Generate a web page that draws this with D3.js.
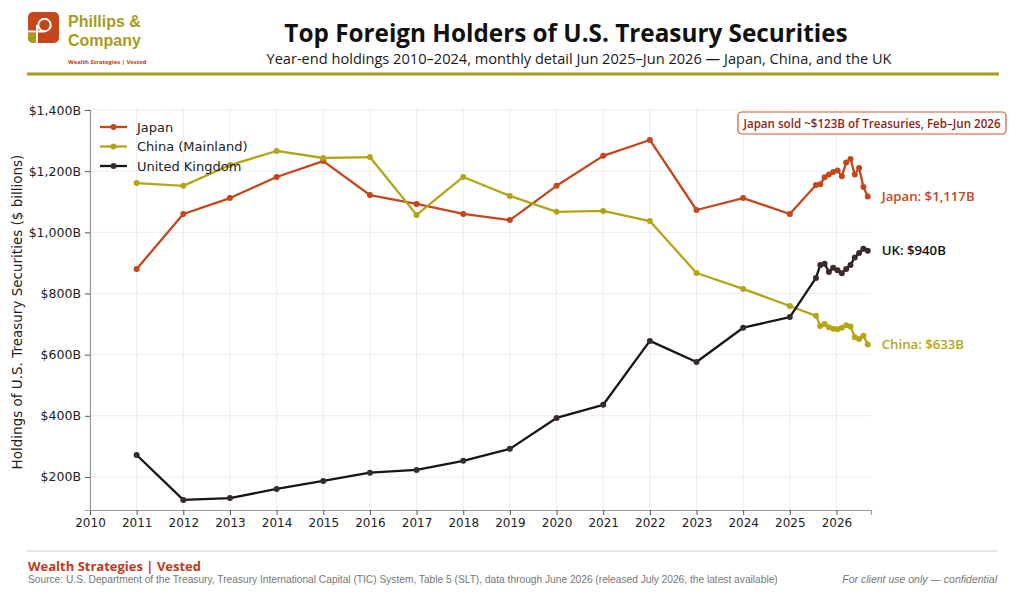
<!DOCTYPE html>
<html>
<head>
<meta charset="utf-8">
<script src="https://cdn.jsdelivr.net/npm/d3@7/dist/d3.min.js"></script>
<style>
  html, body { margin: 0; padding: 0; background: #fff; }
  svg { display: block; }
</style>
</head>
<body>
<svg id="chart" width="1024" height="596"></svg>
<script>
// ---------------- DATA ----------------
// Year-end holdings (plotted at the year's end, i.e. start of next year)
const yearEnds = [2010, 2011, 2012, 2013, 2014, 2015, 2016, 2017, 2018, 2019, 2020, 2021, 2022, 2023, 2024];
const japanYE  = [880, 1060, 1112, 1181, 1233, 1122, 1093, 1060, 1040, 1152, 1250, 1302, 1073, 1112, 1060];
const chinaYE  = [1161, 1152, 1220, 1266, 1243, 1246, 1057, 1181, 1119, 1067, 1070, 1037, 867, 815, 759];
const ukYE     = [272, 125, 131, 161, 187, 214, 223, 253, 292, 393, 436, 645, 576, 688, 723];

// Monthly detail Jun 2025 - Jun 2026
const months  = ["Jun 2025","Jul 2025","Aug 2025","Sep 2025","Oct 2025","Nov 2025","Dec 2025",
                 "Jan 2026","Feb 2026","Mar 2026","Apr 2026","May 2026","Jun 2026"];
const japanM  = [1155, 1157, 1180, 1189, 1197, 1202, 1183, 1228, 1240, 1189, 1210, 1148, 1117];
const chinaM  = [727, 694, 700, 690, 685, 683, 688, 696, 692, 657, 651, 662, 633];
const ukM     = [851, 893, 897, 870, 884, 876, 866, 880, 893, 918, 932, 946, 940];

const seriesNames = ["Japan", "China (Mainland)", "United Kingdom"];
const endLabels   = ["Japan: $1,117B", "China: $633B", "UK: $940B"];
const xTickYears  = d3.range(2010, 2027);
const yTickValues = [200, 400, 600, 800, 1000, 1200, 1400];

const brandLines   = ["Phillips &", "Company"];
const titleText    = "Top Foreign Holders of U.S. Treasury Securities";
const subtitleText = "Year-end holdings 2010\u20132024, monthly detail Jun 2025\u2013Jun 2026 \u2014 Japan, China, and the UK";
const noteText     = "Japan sold ~$123B of Treasuries, Feb\u2013Jun 2026";
const yAxisTitle   = "Holdings of U.S. Treasury Securities ($ billions)";
const footerBrand  = "Wealth Strategies | Vested";
const sourceText   = "Source: U.S. Department of the Treasury, Treasury International Capital (TIC) System, Table 5 (SLT), data through June 2026 (released July 2026, the latest available)";
const confText     = "For client use only \u2014 confidential";

// ---------------- STYLE ----------------
const COLORS = { japan: "#c4461c", china: "#b3a514", uk: "#161616" };
const DOTS   = { japan: "#c4461c", china: "#b3a514", uk: "#3a2b2b" };
const OLIVE  = "#a89c1c";
const RED    = "#c0391b";

const svg = d3.select("#chart");
const M = { left: 90, right: 871, top: 110, bottom: 510 };

// monthly points are placed in the stretched detail region at the right
const monthPos = d3.scaleLinear().domain([0, months.length - 1]).range([2025.56, 2026.67]);

const x = d3.scaleLinear().domain([2010, 2026.74]).range([M.left, M.right]);
const y = d3.scaleLinear().domain([92, 1400]).range([M.bottom, M.top]);

function build(ye, mo) {
  const pts = yearEnds.map((yr, i) => ({ t: yr + 1, v: ye[i] }));
  mo.forEach((v, i) => pts.push({ t: monthPos(i), v }));
  return pts;
}
const series = [
  { key: "japan", name: seriesNames[0], data: build(japanYE, japanM), label: endLabels[0] },
  { key: "china", name: seriesNames[1], data: build(chinaYE, chinaM), label: endLabels[1] },
  { key: "uk",    name: seriesNames[2], data: build(ukYE, ukM),       label: endLabels[2] }
];

// ---------------- HEADER ----------------
const logo = svg.append("g");
logo.append("rect").attr("x", 28).attr("y", 12).attr("width", 31).attr("height", 31)
  .attr("rx", 5).attr("fill", "#c4471a");
logo.append("path").attr("d", "M28,33 H37 V43 H33 A5,5 0 0 1 28,38 Z").attr("fill", OLIVE);
logo.append("circle").attr("cx", 44.5).attr("cy", 25).attr("r", 6.2)
  .attr("fill", "none").attr("stroke", "#fff").attr("stroke-width", 2);
logo.append("line").attr("x1", 37).attr("y1", 25).attr("x2", 37).attr("y2", 43)
  .attr("stroke", "#fff").attr("stroke-width", 2);
logo.append("line").attr("x1", 28).attr("y1", 31.5).attr("x2", 44.5).attr("y2", 31.5)
  .attr("stroke", "#fff").attr("stroke-width", 2);

const wordmark = logo.append("text").attr("x", 68).attr("y", 27)
  .attr("font-family", "Liberation Sans, Arial, sans-serif").attr("font-weight", 700)
  .attr("font-size", 16).attr("fill", OLIVE);
brandLines.forEach((t, i) => wordmark.append("tspan").attr("x", 68).attr("dy", i === 0 ? 0 : 18.5).text(t));

logo.append("text").attr("x", 68).attr("y", 64).text(footerBrand)
  .attr("font-family", "Open Sans, sans-serif").attr("font-weight", 700)
  .attr("font-size", 5.9).attr("fill", RED);

svg.append("text").attr("x", 566).attr("y", 41.5).attr("text-anchor", "middle")
  .text(titleText).attr("font-family", "Open Sans, sans-serif").attr("font-weight", 700)
  .attr("font-size", 24.3).attr("fill", "#111");
svg.append("text").attr("x", 579).attr("y", 63.5).attr("text-anchor", "middle")
  .text(subtitleText).attr("font-family", "Open Sans, sans-serif")
  .attr("font-size", 14.6).attr("fill", "#1a1a1a");

svg.append("line").attr("x1", 27).attr("x2", 999).attr("y1", 74).attr("y2", 74)
  .attr("stroke", OLIVE).attr("stroke-width", 3);

// ---------------- GRID ----------------
const grid = svg.append("g");
grid.selectAll("line.v").data(xTickYears).join("line")
  .attr("x1", d => x(d)).attr("x2", d => x(d)).attr("y1", M.top - 2).attr("y2", M.bottom)
  .attr("stroke", "#ececec").attr("stroke-width", 1);
grid.selectAll("line.h").data(yTickValues).join("line")
  .attr("x1", M.left).attr("x2", M.right).attr("y1", d => y(d)).attr("y2", d => y(d))
  .attr("stroke", "#ececec").attr("stroke-width", 1);

// ---------------- AXES ----------------
const axisFont = "DejaVu Sans, sans-serif";
const xAxis = svg.append("g").attr("transform", `translate(0,${M.bottom})`)
  .call(d3.axisBottom(x).tickValues(xTickYears).tickFormat(d3.format("d")).tickSize(5).tickPadding(3));
const yAxis = svg.append("g").attr("transform", `translate(${M.left},0)`)
  .call(d3.axisLeft(y).tickValues(yTickValues).tickFormat(d => "$" + d3.format(",")(d) + "B").tickSize(5).tickPadding(4));
[xAxis, yAxis].forEach(a => {
  a.select(".domain").attr("stroke", "#999").attr("stroke-width", 1.2);
  a.selectAll(".tick line").attr("stroke", "#555");
  a.selectAll(".tick text").attr("font-family", axisFont).attr("font-size", 12.5).attr("fill", "#222");
});
xAxis.selectAll(".tick text").attr("font-size", 12);

svg.append("text")
  .attr("transform", `translate(22,${(M.top + M.bottom) / 2 + 2}) rotate(-90)`)
  .attr("text-anchor", "middle").text(yAxisTitle)
  .attr("font-family", axisFont).attr("font-size", 13.5).attr("fill", "#222");

// ---------------- LINES ----------------
const line = d3.line().x(d => x(d.t)).y(d => y(d.v));
series.forEach(s => {
  const g = svg.append("g");
  g.append("path").datum(s.data).attr("d", line)
    .attr("fill", "none").attr("stroke", COLORS[s.key]).attr("stroke-width", 2.3)
    .attr("stroke-linejoin", "round");
  g.selectAll("circle").data(s.data).join("circle")
    .attr("cx", d => x(d.t)).attr("cy", d => y(d.v)).attr("r", 3)
    .attr("fill", DOTS[s.key]);
});

// end labels
series.forEach(s => {
  const last = s.data[s.data.length - 1];
  svg.append("text").attr("x", x(last.t) + 14).attr("y", y(last.v) + 4.5)
    .text(s.label).attr("font-family", "Open Sans, sans-serif").attr("font-weight", 600)
    .attr("font-size", 13.2).attr("fill", s.key === "uk" ? "#111" : COLORS[s.key]);
});

// ---------------- LEGEND ----------------
const lg = svg.append("g").attr("transform", "translate(100,127)");
series.forEach((s, i) => {
  const r = lg.append("g").attr("transform", `translate(0,${i * 19.5})`);
  r.append("line").attr("x1", 0).attr("x2", 27).attr("y1", 0).attr("y2", 0)
    .attr("stroke", COLORS[s.key]).attr("stroke-width", 2.3);
  r.append("circle").attr("cx", 13.5).attr("cy", 0).attr("r", 3).attr("fill", DOTS[s.key]);
  r.append("text").attr("x", 37).attr("y", 4.5).text(s.name)
    .attr("font-family", axisFont).attr("font-size", 13).attr("fill", "#222");
});

// ---------------- ANNOTATION ----------------
const note = svg.append("g");
note.append("rect").attr("x", 738).attr("y", 112).attr("width", 268).attr("height", 22)
  .attr("rx", 4).attr("fill", "#fff").attr("stroke", "#d0583a").attr("stroke-width", 1.2);
note.append("text").attr("x", 872).attr("y", 127.5).attr("text-anchor", "middle")
  .text(noteText).attr("font-family", "Open Sans, sans-serif").attr("font-weight", 600)
  .attr("font-size", 11.6).attr("fill", "#8e2616");

// ---------------- FOOTER ----------------
svg.append("line").attr("x1", 27).attr("x2", 997).attr("y1", 551).attr("y2", 551)
  .attr("stroke", "#cfcfcf").attr("stroke-width", 1.2);
svg.append("text").attr("x", 28).attr("y", 571).text(footerBrand)
  .attr("font-family", "Open Sans, sans-serif").attr("font-weight", 700)
  .attr("font-size", 13).attr("fill", RED);
svg.append("text").attr("x", 28).attr("y", 583).text(sourceText)
  .attr("font-family", "Liberation Sans Narrow, Arial Narrow, sans-serif")
  .attr("font-size", 10.2).attr("fill", "#777");
svg.append("text").attr("x", 997).attr("y", 583).attr("text-anchor", "end").text(confText)
  .attr("font-family", "Liberation Sans Narrow, Arial Narrow, sans-serif").attr("font-style", "italic")
  .attr("font-size", 10.5).attr("fill", "#777");
</script>
</body>
</html>
